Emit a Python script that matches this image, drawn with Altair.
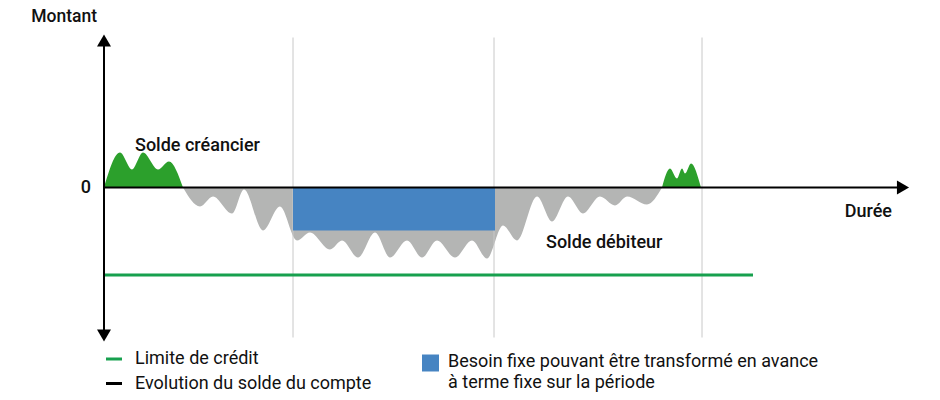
import altair as alt
import pandas as pd

# --- Courbe du solde du compte (durée, solde) par segment ---
duree = [0, 16, 28, 39, 54, 65, 79,
         79, 96, 109, 128, 140, 159, 176, 193, 206, 226, 238, 254, 271, 286, 303, 318, 333, 351, 368, 383,
         399, 413, 433, 448, 464, 479, 496, 511, 523, 543, 558,
         558, 566, 573, 578, 581, 587, 597]
solde = [0, 35, 18, 35, 18, 26, 0,
         0, -19, -9, -26, -2, -43, -19, -53, -45, -62, -53, -70, -45, -70, -53, -70, -53, -70, -53, -71,
         -38, -53, -9, -34, -9, -26, -9, -18, -9, -17, 0,
         0, 19, 9, 19, 14, 24, 0]
segment = [1] * 7 + [2] * 31 + [3] * 7
signe = ["créditeur"] * 7 + ["débiteur"] * 31 + ["créditeur"] * 7

# --- Besoin fixe (rectangle) ---
besoin_debut = [189]
besoin_fin = [391]
besoin_montant = [-43]

# --- Limite de crédit ---
limite_valeur = [-87.5]
limite_fin = [649]

# --- Repères verticaux ---
reperes = [189, 390, 598]

# --- Axes ---
axe_x_fin = 799
axe_y_haut = 147
axe_y_bas = -148

FONT = "Roboto"

df_courbe = pd.DataFrame({"duree": duree, "solde": solde, "zero": [0] * len(duree),
                          "segment": segment, "signe": signe})

xs = alt.Scale(domain=[-96, 828], nice=False, zero=False)
ys = alt.Scale(domain=[-204.5, 179.5], nice=False, zero=False)

X = lambda f: alt.X(f, scale=xs, axis=None)
Y = lambda f: alt.Y(f, scale=ys, axis=None)

grid = alt.Chart(pd.DataFrame({"x": reperes, "y1": [-150] * 3, "y2": [150] * 3})).mark_rule(
    color="#c8c8c8", strokeWidth=1
).encode(x=X("x:Q"), y=Y("y1:Q"), y2="y2:Q")

area = alt.Chart(df_courbe).mark_area(interpolate="monotone", opacity=1).encode(
    x=X("duree:Q"),
    y=Y("solde:Q"),
    y2="zero:Q",
    color=alt.Color("signe:N", scale=alt.Scale(domain=["créditeur", "débiteur"], range=["#2ca02c", "#b4b5b4"]), legend=None),
    detail="segment:N",
)

rect = alt.Chart(pd.DataFrame({"x1": besoin_debut, "x2": besoin_fin, "y1": [0], "y2": besoin_montant})).mark_rect(
    color="#4684c2"
).encode(x=X("x1:Q"), x2="x2:Q", y=Y("y1:Q"), y2="y2:Q")

limite = alt.Chart(pd.DataFrame({"x1": [0], "x2": limite_fin, "y": limite_valeur})).mark_rule(
    color="#17a04e", strokeWidth=3
).encode(x=X("x1:Q"), x2="x2:Q", y=Y("y:Q"))

axes = alt.Chart(pd.DataFrame({
    "x1": [0, 0], "x2": [axe_x_fin, 0], "y1": [0, axe_y_bas], "y2": [0, axe_y_haut]
})).mark_rule(color="black", strokeWidth=2).encode(x=X("x1:Q"), x2="x2:Q", y=Y("y1:Q"), y2="y2:Q")

fleches = alt.Chart(pd.DataFrame({
    "x": [0, 0, axe_x_fin], "y": [axe_y_haut, axe_y_bas, 0],
    "forme": ["triangle-up", "triangle-down", "triangle-right"]
})).mark_point(filled=True, color="black", size=196, opacity=1).encode(
    x=X("x:Q"), y=Y("y:Q"), shape=alt.Shape("forme:N", scale=None)
)

titre_y = alt.Chart(pd.DataFrame({"x": [-7], "y": [165.5], "t": ["Montant"]})).mark_text(
    font=FONT, fontSize=17.5, fontWeight=500, color="#111", baseline="alphabetic", align="right"
).encode(x=X("x:Q"), y=Y("y:Q"), text="t:N")

labels_r = alt.Chart(pd.DataFrame({
    "x": [-13, 788], "y": [0, -24], "t": ["0", "Durée"],
})).mark_text(font=FONT, fontSize=18, fontWeight=500, color="#111", baseline="middle", align="right").encode(
    x=X("x:Q"), y=Y("y:Q"), text="t:N"
)
labels_l = alt.Chart(pd.DataFrame({
    "x": [31, 442], "y": [42, -55.5], "t": ["Solde créancier", "Solde débiteur"],
})).mark_text(font=FONT, fontSize=18, fontWeight=500, color="#111", baseline="middle", align="left").encode(
    x=X("x:Q"), y=Y("y:Q"), text="t:N"
)

# --- Légende ---
leg_lignes = alt.Chart(pd.DataFrame({
    "x1": [2, 2], "x2": [18, 18], "y": [-171.5, -196], "c": ["#17a04e", "#000000"]
})).mark_rule(strokeWidth=3).encode(x=X("x1:Q"), x2="x2:Q", y=Y("y:Q"), color=alt.Color("c:N", scale=None))

leg_carre = alt.Chart(pd.DataFrame({"x": [326.5], "y": [-175.5]})).mark_square(
    size=289, color="#4684c2", opacity=1
).encode(x=X("x:Q"), y=Y("y:Q"))

leg_textes = alt.Chart(pd.DataFrame({
    "x": [31, 31, 344, 344],
    "y": [-171.5, -196, -174.5, -195.5],
    "t": ["Limite de crédit", "Evolution du solde du compte",
          "Besoin fixe pouvant être transformé en avance", "à terme fixe sur la période"],
})).mark_text(font=FONT, fontSize=18, color="#111", align="left", baseline="middle").encode(
    x=X("x:Q"), y=Y("y:Q"), text="t:N"
)

chart = alt.layer(area, grid, rect, limite, axes, fleches, titre_y, labels_r, labels_l, leg_lignes, leg_carre, leg_textes).properties(
    width=924, height=384, padding=0, autosize=alt.AutoSizeParams(type="none"),
    background="white"
).configure_view(stroke=None)

chart.save("out.html", embed_options={"renderer": "svg", "actions": False})
